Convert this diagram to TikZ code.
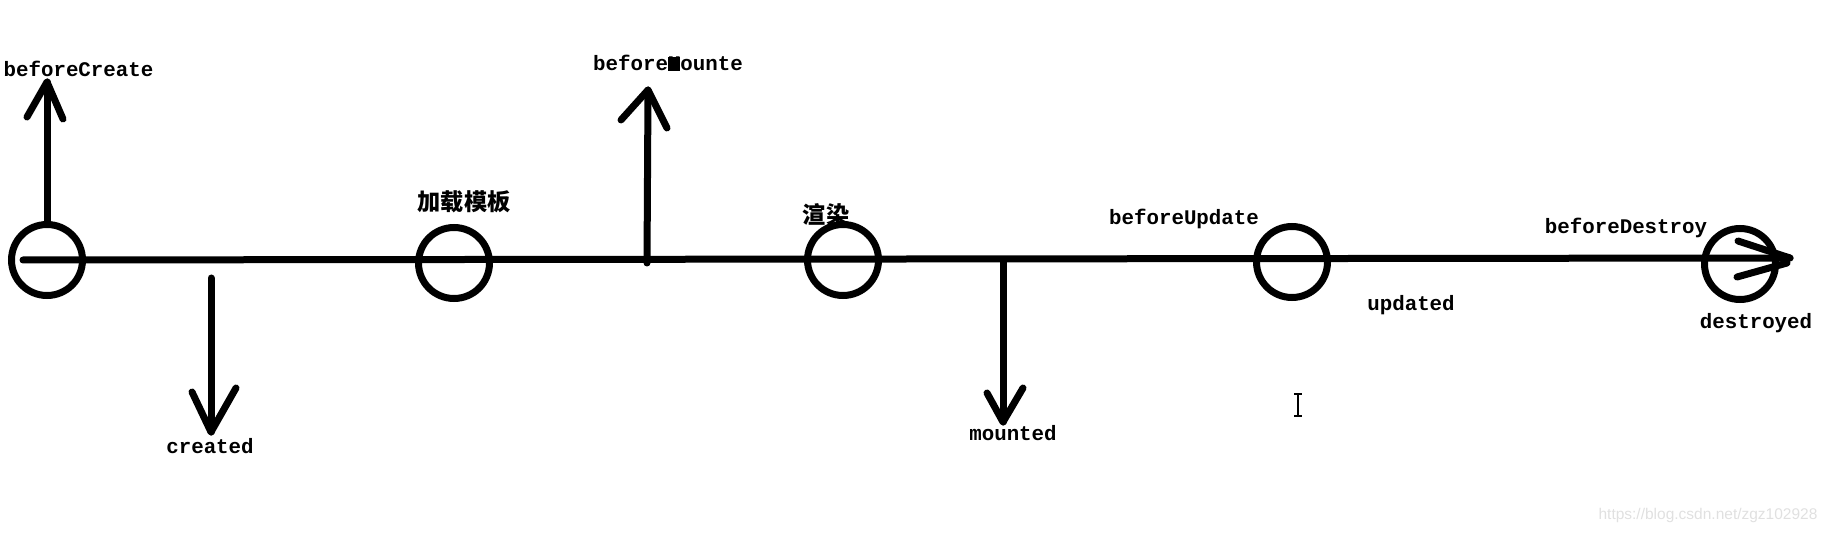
\documentclass[tikz,border=0pt]{standalone}
\usepackage{fontspec}
\setmonofont{Liberation Mono}
\newfontfamily\cjk{Noto Sans CJK SC}
\newfontfamily\wmfont{Liberation Sans}
\begin{document}
\begin{tikzpicture}[x=0.5pt,y=-0.5pt,
  stroke/.style={line width=3.5pt, line cap=round, line join=round},
  ring/.style={circle, draw, line width=3.5pt, minimum size=35.5pt, inner sep=0pt},
  lbl/.style={font=\ttfamily\bfseries\fontsize{10.4}{12}\selectfont, inner sep=0pt},
  cn/.style={font=\cjk\bfseries\fontsize{11.6}{13}\selectfont, inner sep=0pt},
  wm/.style={font=\wmfont\fontsize{7.75}{9}\selectfont, text=black!12, inner sep=0pt}]
\useasboundingbox (0,0) rectangle (1830,534);

% main time line
\coordinate (start) at (23,260);
\coordinate (endtip) at (1790,258);
\draw[stroke] (start) -- (endtip);
\draw[stroke] ([shift={(-52,-17)}]endtip) -- (endtip);
\draw[stroke] ([shift={(-53,19)}]endtip) -- ([shift={(-3,5)}]endtip);

% circles
\node[ring] (c1) at (47,260) {};
\node[ring] (c2) at (454,263) {};
\node[ring] (c3) at (843,260) {};
\node[ring] (c4) at (1292,262) {};
\node[ring] (c5) at (1740,264) {};

% beforeCreate (up)
\coordinate (bctip) at (47,82);
\draw[stroke] (c1.north) -- (bctip);
\draw[stroke] ([shift={(-20,35)}]bctip) -- (bctip) -- ([shift={(16,37)}]bctip);
\node[lbl] (tbc) at (78.5,69) {beforeCreate};

% created (down)
\coordinate (crs) at (211,278);
\coordinate (crtip) at (211,432);
\draw[stroke] (crs) -- (crtip);
\draw[stroke] ([shift={(-19,-40)}]crtip) -- (crtip) -- ([shift={(25,-44)}]crtip);
\node[lbl] (tcr) at (210,446) {created};

% template
\node[cn] (tload) at (464,202) {加载模板};

% beforeMount (up)
\coordinate (bmbase) at (647,263);
\coordinate (bmtip) at (648,90);
\draw[stroke] (bmbase) -- (bmtip);
\draw[stroke] ([shift={(-27,30)}]bmtip) -- (bmtip) -- ([shift={(19,38)}]bmtip);
\node[lbl] (tbm) at (668,63) {before{\setlength\fboxsep{0pt}\colorbox{black}{M}}ounte};

% render
\node[cn] (trender) at (826,215) {渲染};

% mounted (down)
\coordinate (mbase) at (1003,262);
\coordinate (mtip) at (1003,422);
\draw[stroke] (mbase) -- (mtip);
\draw[stroke] ([shift={(-16,-29)}]mtip) -- (mtip) -- ([shift={(20,-34)}]mtip);
\node[lbl] (tm) at (1013,433) {mounted};

% update
\node[lbl] (tbu) at (1184,219) {beforeUpdate};
\node[lbl] (tu) at (1411,305) {updated};

% destroy
\node[lbl] (tbd) at (1626,228) {beforeDestroy};
\node[lbl] (td) at (1756,323) {destroyed};

% text cursor
\coordinate (cur) at (1298,405);
\draw[line width=1pt] ([shift={(0,-11)}]cur) -- ([shift={(0,11)}]cur);
\draw[line width=1pt] ([shift={(-4,-11)}]cur) -- ([shift={(4,-11)}]cur);
\draw[line width=1pt] ([shift={(-4,11)}]cur) -- ([shift={(4,11)}]cur);

% watermark
\node[wm] (wmk) at (1708,515) {https://blog.csdn.net/zgz102928};
\end{tikzpicture}
\end{document}
